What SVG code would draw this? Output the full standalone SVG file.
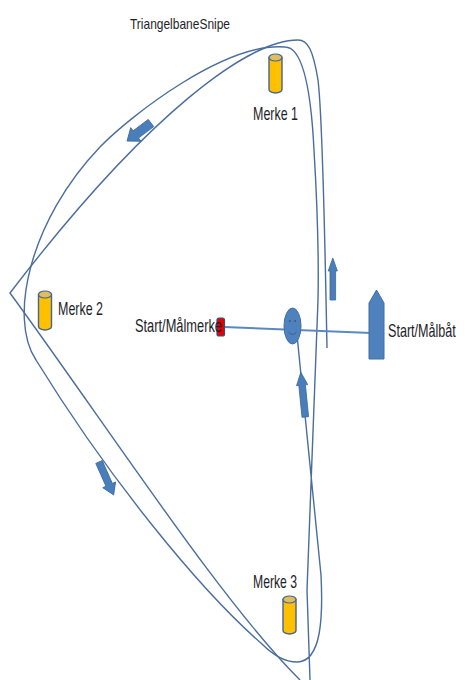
<svg xmlns="http://www.w3.org/2000/svg" width="465" height="680" viewBox="0 0 465 680">
  <style>
    .lbl { font-family: "Liberation Sans", Arial, sans-serif; fill: #1e1e2a; }
    .path { fill: none; stroke: #4a6d9c; stroke-width: 1.4; }
    .startline { fill: none; stroke: #5a88c4; stroke-width: 2; }
    .arr { fill: #4a7ebb; stroke: #3b679c; stroke-width: 0.8; }
    .cyl-body { fill: #ffc000; stroke: #43658f; stroke-width: 1.4; }
    .cyl-top { fill: #e2bd5e; stroke: #43658f; stroke-width: 1.2; }
  </style>
  <rect width="465" height="680" fill="#ffffff"/>

  <g id="connectors">
    <!-- outer triangle course with sharp apex -->
    <path class="path" d="M327,348 C325,250 323,120 318,80 C313,50 308,40 298,40 C250,40 150,110 10,293 C110,430 220,600 300,680"/>
    <!-- inner smooth course from the start -->
    <path class="path" d="M297,335 L321,575 C323,615 322,662 297,662 C285,662 273,655 262,644 C200,590 110,480 36,360 C8,318 30,220 100,147 C130,116 225,42 285,47 C303,47 311,90 314,150 C317,200 319,250 318,300 L307,590 L310,680"/>
    <!-- start line -->
    <line class="startline" x1="224" y1="327" x2="371" y2="333"/>
    <!-- direction arrows -->
    <polygon class="arr" transform="translate(332.8,300) rotate(-90)" points="0,-2.8 29,-2.8 29,-4.6 42,0 29,4.6 29,2.8 0,2.8"/>
    <polygon class="arr" transform="translate(305.3,417) rotate(-95.7)" points="0,-3.3 32,-3.3 32,-5.6 45,0 32,5.6 32,3.3 0,3.3"/>
    <polygon class="arr" transform="translate(151,123) rotate(143)" points="0,-4.5 19,-4.5 19,-8.5 30,0 19,8.5 19,4.5 0,4.5"/>
    <polygon class="arr" transform="translate(99,462) rotate(66)" points="0,-3.5 25,-3.5 25,-7 36,0 25,7 25,3.5 0,3.5"/>
  </g>

  <g id="title">
    <text class="lbl" x="130" y="29" font-size="15" textLength="100" lengthAdjust="spacingAndGlyphs">TriangelbaneSnipe</text>
  </g>

  <g id="merke1">
    <path class="cyl-body" d="M269,57.5 V89.5 A6.5,3.5 0 0 0 282,89.5 V57.5 Z"/>
    <ellipse class="cyl-top" cx="275.5" cy="57.5" rx="6.5" ry="3.5"/>
    <text class="lbl" x="253" y="120" font-size="19" textLength="45" lengthAdjust="spacingAndGlyphs">Merke 1</text>
  </g>

  <g id="merke2">
    <path class="cyl-body" d="M38.5,294.5 V326.5 A6.5,3.5 0 0 0 51.5,326.5 V294.5 Z"/>
    <ellipse class="cyl-top" cx="45" cy="294.5" rx="6.5" ry="3.5"/>
    <text class="lbl" x="58" y="315" font-size="19" textLength="45" lengthAdjust="spacingAndGlyphs">Merke 2</text>
  </g>

  <g id="merke3">
    <path class="cyl-body" d="M283,599.5 V630.5 A6.5,3.5 0 0 0 296,630.5 V599.5 Z"/>
    <ellipse class="cyl-top" cx="289.5" cy="599.5" rx="6.5" ry="3.5"/>
    <text class="lbl" x="253" y="588" font-size="19" textLength="44" lengthAdjust="spacingAndGlyphs">Merke 3</text>
  </g>

  <g id="start-maalmerke">
    <rect x="217" y="318" width="7.5" height="18" rx="2" fill="#e60000" stroke="#33507a" stroke-width="1.2"/>
    <text class="lbl" x="135" y="332" font-size="18" textLength="87" lengthAdjust="spacingAndGlyphs">Start/Målmerke</text>
  </g>

  <g id="smiley">
    <ellipse cx="292.5" cy="326" rx="8.5" ry="18" fill="#4f81bd" stroke="#3f6ea6" stroke-width="1"/>
    <circle cx="289.8" cy="321" r="0.9" fill="#2e5a8a"/>
    <circle cx="295.2" cy="321" r="0.9" fill="#2e5a8a"/>
    <path d="M288.5,332 Q292.5,337 296.5,332" fill="none" stroke="#2e5a8a" stroke-width="0.9"/>
  </g>

  <g id="start-maalbaat">
    <polygon points="369,303 376.5,290 384,303 384,359 369,359" fill="#4f81bd" stroke="#3f6ea6" stroke-width="1"/>
    <text class="lbl" x="0" y="0" font-size="18" transform="translate(388,337) scale(0.7,1)">Start/Målbåt</text>
  </g>
</svg>
